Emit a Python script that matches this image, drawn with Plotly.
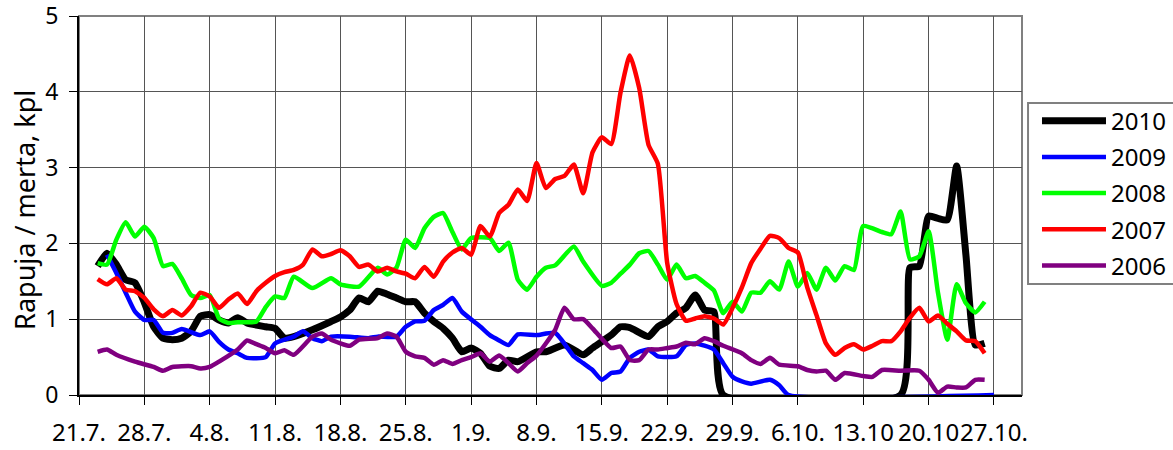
import pandas as pd
import plotly.graph_objects as go

START = pd.Timestamp("2010-07-21")

# Day offsets from 21.7. and values (Rapuja / merta, kpl)
d2010 = [2, 3, 4, 5, 6, 7, 8, 9, 10, 11, 12, 13, 14, 15, 16, 17, 18, 20, 21, 22, 23, 25, 27, 28, 29,
         30, 31, 32, 33, 34, 35, 36, 37, 38, 39, 40, 41, 42, 43, 44, 45, 46, 47, 49, 50, 52, 54, 55,
         57, 58, 59, 61, 62, 63, 64, 65, 66, 67, 68, 69, 88, 89, 90, 91, 92, 93, 94, 95, 96, 97]
v2010 = [1.70, 1.87, 1.72, 1.52, 1.48, 1.22, 0.90, 0.75, 0.73, 0.75, 0.84, 1.04, 1.06, 0.99, 0.95,
         1.02, 0.95, 0.90, 0.88, 0.75, 0.77, 0.86, 0.97, 1.03, 1.12, 1.28, 1.23, 1.37, 1.33, 1.28,
         1.23, 1.23, 1.08, 0.97, 0.88, 0.75, 0.57, 0.62, 0.55, 0.38, 0.35, 0.46, 0.44, 0.57, 0.57,
         0.66, 0.53, 0.62, 0.79, 0.90, 0.89, 0.77, 0.90, 0.97, 1.08, 1.15, 1.32, 1.12, 1.10, 0.0,
         0.0, 1.68, 1.70, 2.36, 2.33, 2.31, 3.02, 1.84, 0.66, 0.68]

d2009 = [3, 4, 5, 6, 7, 8, 9, 10, 11, 13, 14, 15, 16, 17, 18, 20, 21, 23, 24, 25, 26, 27, 29, 31, 32,
         34, 35, 36, 37, 38, 39, 40, 41, 43, 44, 45, 46, 47, 49, 51, 53, 54, 55, 56, 57, 58, 59, 60,
         61, 62, 64, 65, 66, 67, 68, 69, 70, 71, 72, 74, 75, 76, 98]
v2009 = [1.85, 1.61, 1.35, 1.10, 0.99, 0.99, 0.82, 0.82, 0.87, 0.79, 0.84, 0.70, 0.60, 0.55, 0.49,
         0.50, 0.68, 0.77, 0.84, 0.75, 0.71, 0.77, 0.77, 0.75, 0.77, 0.77, 0.90, 0.97, 0.98, 1.12,
         1.19, 1.28, 1.10, 0.90, 0.79, 0.72, 0.66, 0.80, 0.79, 0.82, 0.51, 0.42, 0.33, 0.20, 0.29,
         0.31, 0.49, 0.57, 0.60, 0.51, 0.51, 0.66, 0.68, 0.65, 0.60, 0.42, 0.24, 0.18, 0.15, 0.20,
         0.13, 0.0, 0.0]

d2008 = [2, 3, 4, 5, 6, 7, 8, 9, 10, 11, 12, 13, 14, 15, 16, 17, 19, 20, 21, 22, 23, 25, 27, 28, 30,
         32, 33, 34, 35, 36, 37, 38, 39, 40, 41, 42, 44, 45, 46, 47, 48, 49, 50, 51, 53, 54,
         56, 57, 58, 59, 60, 61, 62, 63, 64, 65, 66, 67, 68, 69, 70, 71, 72, 73, 74, 75, 76, 77, 78,
         79, 80, 81, 82, 83, 84, 86, 87, 88, 89, 90, 91, 92, 93, 94, 95, 96, 97]
v2008 = [1.74, 1.72, 2.05, 2.28, 2.09, 2.22, 2.07, 1.70, 1.73, 1.54, 1.32, 1.28, 1.32, 1.01, 0.95,
         0.96, 0.97, 1.16, 1.30, 1.28, 1.56, 1.41, 1.54, 1.46, 1.43,
         1.68, 1.59, 1.68, 2.05, 1.94, 2.20, 2.35, 2.40, 2.15, 1.92, 2.07,
         2.07, 1.90, 2.01, 1.52, 1.39, 1.56, 1.68, 1.71, 1.96, 1.76,
         1.44, 1.48, 1.60, 1.72, 1.87, 1.90, 1.72, 1.52, 1.72, 1.54, 1.57, 1.48, 1.38, 1.08, 1.23,
         1.10, 1.35, 1.35, 1.50, 1.39, 1.76, 1.43, 1.61, 1.39, 1.68, 1.51, 1.70, 1.65, 2.23,
         2.15, 2.12, 2.42, 1.79, 1.83, 2.16, 1.35, 0.73, 1.46, 1.21, 1.09, 1.23]

d2007 = list(range(2, 98))
v2007 = [1.53, 1.46, 1.54, 1.39, 1.37, 1.28, 1.13, 1.04, 1.12, 1.05, 1.17, 1.35, 1.30, 1.15, 1.26,
         1.34, 1.20, 1.37, 1.48, 1.57, 1.62, 1.65, 1.72, 1.92, 1.83, 1.86, 1.91, 1.83, 1.69, 1.72,
         1.63, 1.68, 1.63, 1.60, 1.54, 1.69, 1.56, 1.76, 1.88, 1.94, 1.85, 2.23, 2.09, 2.40, 2.51,
         2.71, 2.56, 3.06, 2.73, 2.85, 2.89, 3.04, 2.66, 3.20, 3.40, 3.31, 3.99, 4.48, 4.05, 3.30,
         3.05, 1.74, 1.20, 0.98, 1.01, 1.04, 1.01, 0.93, 1.15, 1.42, 1.74, 1.93, 2.10, 2.07, 1.94,
         1.88, 1.42, 1.05, 0.68, 0.53, 0.62, 0.67, 0.60, 0.65, 0.71, 0.71, 0.84, 1.02, 1.15, 0.97,
         1.05, 0.94, 0.84, 0.72, 0.71, 0.55]

d2006 = [2, 3, 4, 6, 8, 9, 10, 12, 13, 14, 15, 17, 18, 19, 20, 21, 22, 23, 25, 26, 27, 29, 30,
         32, 33, 34, 35, 36, 37, 38, 39, 40, 41, 42, 43, 44, 45, 46, 47, 48, 49, 50, 51, 52, 53, 54, 55,
         57, 58, 59, 60, 61, 62, 63, 64, 65, 66, 67, 68, 69, 71, 72, 73, 74, 75, 77, 78, 79, 80, 81, 82,
         84, 85, 86, 88, 90, 91, 92, 93, 94, 95, 96, 97]
v2006 = [0.57, 0.60, 0.53, 0.44, 0.37, 0.32, 0.37, 0.38, 0.35, 0.37, 0.44, 0.60, 0.72, 0.67, 0.62,
         0.55, 0.59, 0.53, 0.77, 0.81, 0.73, 0.65, 0.73,
         0.75, 0.81, 0.77, 0.57, 0.51, 0.49, 0.40, 0.46, 0.41, 0.46, 0.50, 0.55, 0.44, 0.52, 0.42,
         0.31, 0.42, 0.52, 0.68, 0.86, 1.15, 1.00, 1.00, 0.88,
         0.62, 0.64, 0.46, 0.46, 0.60, 0.60, 0.62, 0.64, 0.69, 0.67, 0.75, 0.71, 0.65,
         0.55, 0.46, 0.41, 0.49, 0.40, 0.38, 0.33, 0.31, 0.32, 0.20, 0.29,
         0.25, 0.24, 0.33, 0.32, 0.32, 0.20, 0.03, 0.11, 0.10, 0.10, 0.20, 0.20]

SERIES = [("2010", d2010, v2010, "#000000", 7),
          ("2009", d2009, v2009, "#0000ff", 4.5),
          ("2008", d2008, v2008, "#00ff00", 4.5),
          ("2007", d2007, v2007, "#ff0000", 4.5),
          ("2006", d2006, v2006, "#800080", 4.5)]

TICK_DAYS = [0, 7, 14, 21, 28, 35, 42, 49, 56, 63, 70, 77, 84, 91, 98]
TICK_TEXT = ["21.7.", "28.7.", "4.8.", "11.8.", "18.8.", "25.8.", "1.9.", "8.9.", "15.9.",
             "22.9.", "29.9.", "6.10.", "13.10", "20.10", "27.10."]
Y_TITLE = "Rapuja / merta, kpl"

FONT = "Noto Sans"

fig = go.Figure()
for name, days, vals, color, width in SERIES:
    assert len(days) == len(vals), name
    x = [START + pd.Timedelta(days=d) for d in days]
    fig.add_trace(go.Scatter(x=x, y=vals, mode="lines", name=name, legendgroup=name,
                             line=dict(color=color, width=width, shape="spline", smoothing=0.5)))

fig.update_layout(
    width=1173, height=450,
    margin=dict(l=79, r=151, t=16, b=55, autoexpand=False),
    paper_bgcolor="white", plot_bgcolor="white",
    font=dict(family=FONT, color="black"),
    showlegend=True,
    legend=dict(x=1.0159, y=0.782, xanchor="left", yanchor="top",
                borderwidth=0, bgcolor="rgba(0,0,0,0)",
                font=dict(size=24, family=FONT), traceorder="grouped", tracegroupgap=2,
                itemwidth=64),
    xaxis=dict(type="date",
               range=[START, START + pd.Timedelta(days=101)],
               tickvals=[START + pd.Timedelta(days=d) for d in TICK_DAYS],
               ticktext=TICK_TEXT, tickangle=0, automargin=False,
               ticklabeloverflow="allow",
               tickfont=dict(size=24),
               showgrid=True, gridcolor="#555555", gridwidth=1.2,
               ticks="outside", ticklen=8, tickcolor="black",
               showline=True, linecolor="black", linewidth=2,
               zeroline=False, ticklabelstandoff=7),
    yaxis=dict(range=[0, 5], tickvals=[0, 1, 2, 3, 4, 5], automargin=False,
               ticklabeloverflow="allow",
               tickfont=dict(size=23),
               showgrid=True, gridcolor="#555555", gridwidth=1.2,
               ticks="outside", ticklen=8, tickcolor="black",
               showline=True, linecolor="black", linewidth=2,
               zeroline=False, ticklabelstandoff=6),
    annotations=[dict(text=Y_TITLE, xref="paper", yref="paper", x=-0.0585, y=0.488,
                      xanchor="center", yanchor="middle", textangle=-90, showarrow=False,
                      font=dict(size=27, family=FONT))],
    shapes=[dict(type="rect", xref="paper", yref="paper", x0=0, x1=1, y0=0, y1=1,
                 line=dict(color="#808080", width=2), layer="below"),
            dict(type="rect", xref="paper", yref="paper", x0=1.0064, x1=1.25,
                 y0=0.2929, y1=0.7704, line=dict(color="#808080", width=2),
                 fillcolor="white", layer="below")],
)

fig.write_html("out.html", config={"displayModeBar": False},
               post_script="document.body.style.margin='0';")
